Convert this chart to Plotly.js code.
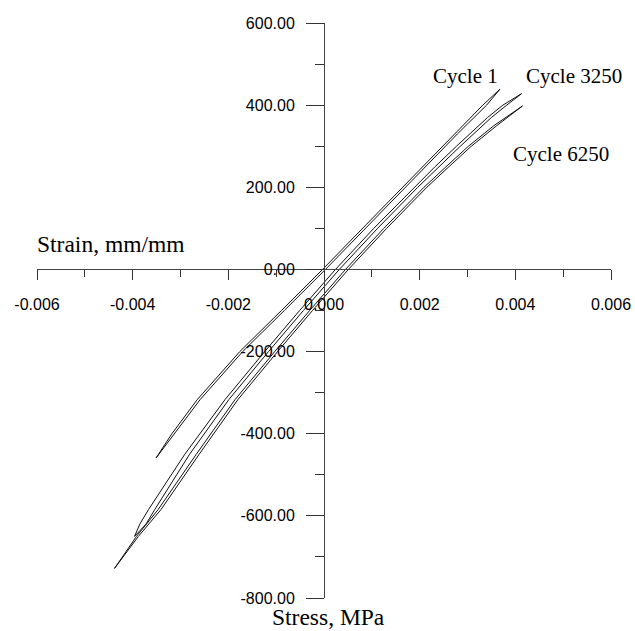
<!DOCTYPE html>
<html><head><meta charset="utf-8">
<script src="https://cdn.plot.ly/plotly-3.0.1.min.js"></script>
<style>html,body{margin:0;padding:0;background:#fff}#chart{width:635px;height:631px}</style>
</head><body><div id="chart"></div>
<script>
// Tick labels
const xTickVals = [-0.006,-0.004,-0.002,0,0.002,0.004,0.006];
const xTickText = ['-0.006','-0.004','-0.002','0.000','0.002','0.004','0.006'];
const xMinorVals = [-0.005,-0.003,-0.001,0.001,0.003,0.005];
const yTickVals = [-800,-600,-400,-200,0,200,400,600];
const yTickText = ['-800.00','-600.00','-400.00','-200.00','0.00','200.00','400.00','600.00'];
const yMinorVals = [-700,-500,-300,-100,100,300,500];

// Cycle 1 loop (stress levels, strain on each branch)
const c1Stress      = [-459,    -400,    -317,    -200,    -100,    0,       110,     220,     330,     400,     439];
const c1StrainLeft  = [-0.00351,-0.00318,-0.00265,-0.00176,-0.00089,-0.00003,0.00089, 0.00181, 0.00273, 0.00332, 0.00368];
const c1StrainRight = [-0.00351,-0.00312,-0.00259,-0.00170,-0.00083, 0.00003,0.00095, 0.00187, 0.00279, 0.00340, 0.00368];

// Cycle 3250 loop
const c3250Stress      = [-650,    -620,    -585,    -450,    -317,    -200,    -100,    0,      100,    200,    250,    300,    370,    400,    428];
const c3250StrainLeft  = [-0.00396,-0.00385,-0.00367,-0.00291,-0.00207,-0.00124,-0.00051,0.00024,0.00104,0.00188,0.00232,0.00277,0.00342,0.00374,0.00413];
const c3250StrainRight = [-0.00396,-0.00372,-0.00354,-0.00281,-0.00199,-0.00116,-0.00043,0.00032,0.00112,0.00196,0.00240,0.00285,0.00350,0.00382,0.00413];

// Cycle 6250 loop
const c6250Stress      = [-728,    -650,    -585,    -450,    -317,    -200,    -100,    0,      100,    200,    250,    300,    350,    398];
const c6250StrainLeft  = [-0.00438,-0.00392,-0.00347,-0.00267,-0.00186,-0.00103,-0.00030,0.00045,0.00125,0.00209,0.00255,0.00302,0.00355,0.00415];
const c6250StrainRight = [-0.00438,-0.00388,-0.00341,-0.00261,-0.00180,-0.00097,-0.00024,0.00051,0.00131,0.00215,0.00261,0.00308,0.00361,0.00415];

function loop(strainLeft, strainRight, stress, name){
  return {
    type:'scatter', mode:'lines', name:name,
    x: strainLeft.concat(strainRight.slice().reverse()),
    y: stress.concat(stress.slice().reverse()),
    line:{color:'#111', width:1},
    hoverinfo:'skip', showlegend:false
  };
}

const traces = [
  loop(c1StrainLeft, c1StrainRight, c1Stress, 'Cycle 1'),
  loop(c3250StrainLeft, c3250StrainRight, c3250Stress, 'Cycle 3250'),
  loop(c6250StrainLeft, c6250StrainRight, c6250Stress, 'Cycle 6250')
];

const tickFont = {family:'Liberation Sans, Arial, sans-serif', size:16, color:'#000'};
const serifFamily = 'Liberation Serif, Times New Roman, serif';
const titleFont = {family:serifFamily, size:23.5, color:'#000'};
const labelFont = {family:serifFamily, size:21, color:'#000'};

const layout = {
  width:635, height:631,
  margin:{l:37, r:24, t:23, b:33},
  paper_bgcolor:'#fff', plot_bgcolor:'#fff',
  showlegend:false,
  xaxis:{
    range:[-0.006,0.006], anchor:'free', position:800/1400,
    showline:true, linecolor:'#444', linewidth:1,
    showgrid:false, zeroline:false,
    tickmode:'array', tickvals:xTickVals, ticktext:xTickText,
    ticks:'outside', ticklen:10, tickwidth:1, tickcolor:'#333',
    ticklabelstandoff:10,
    minor:{tickvals:xMinorVals, ticks:'outside', ticklen:7, tickwidth:1, tickcolor:'#333', showgrid:false},
    tickfont:tickFont
  },
  yaxis:{
    range:[-800,600], anchor:'free', position:0.5,
    showline:true, linecolor:'#444', linewidth:1,
    showgrid:false, zeroline:false,
    tickmode:'array', tickvals:yTickVals, ticktext:yTickText,
    ticks:'outside', ticklen:18, tickwidth:1, tickcolor:'#333',
    ticklabelstandoff:8,
    minor:{tickvals:yMinorVals, ticks:'outside', ticklen:9, tickwidth:1, tickcolor:'#333', showgrid:false},
    tickfont:tickFont
  },
  annotations:[
    {text:'Strain, mm/mm', xref:'paper', yref:'paper', x:-0.004, y:0.6157, xanchor:'left', yanchor:'middle', showarrow:false, font:titleFont},
    {text:'Stress, MPa', xref:'paper', yref:'paper', x:0.4052, y:-0.033, xanchor:'left', yanchor:'middle', showarrow:false, font:titleFont},
    {text:'Cycle 1', xref:'x', yref:'y', x:0.00368, y:471, xanchor:'right', yanchor:'middle', showarrow:false, font:labelFont},
    {text:'Cycle 3250', xref:'x', yref:'y', x:0.00419, y:471, xanchor:'left', yanchor:'middle', showarrow:false, font:labelFont},
    {text:'Cycle 6250', xref:'x', yref:'y', x:0.0039, y:280, xanchor:'left', yanchor:'middle', showarrow:false, font:labelFont}
  ]
};

Plotly.newPlot('chart', traces, layout, {displayModeBar:false, staticPlot:true});
</script>
</body></html>
